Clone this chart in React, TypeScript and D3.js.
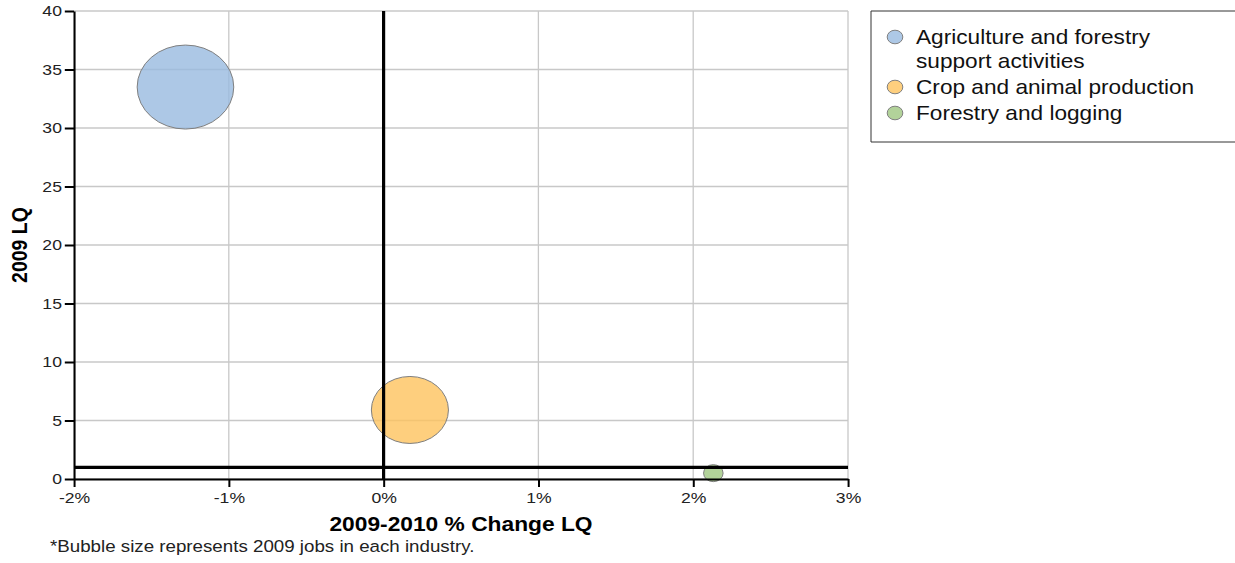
import React, { useEffect, useRef } from 'react';
import * as d3 from 'd3';

// Data
const INDUSTRIES = [
  'Agriculture and forestry support activities',
  'Crop and animal production',
  'Forestry and logging',
];
const LEGEND_LINES = [
  ['Agriculture and forestry', 'support activities'],
  ['Crop and animal production'],
  ['Forestry and logging'],
];
const CHANGE_LQ = [-1.28, 0.17, 2.13]; // 2009-2010 % change in LQ
const LQ_2009 = [33.5, 5.9, 0.5];
const JOBS_2009 = [1760, 1120, 72];
const COLORS = ['#98bae0', '#fec35e', '#9fc781'];

const X_TICKS = [-2, -1, 0, 1, 2, 3];
const Y_TICKS = [0, 5, 10, 15, 20, 25, 30, 35, 40];

const FONT = '"Liberation Sans", Arial, Helvetica, sans-serif';

// the original picture is stretched horizontally
const SX = 1.15;
const W = 1235 / SX;
const H = 563;

const App: React.FC = () => {
  const svgRef = useRef<SVGSVGElement | null>(null);

  useEffect(() => {
    if (!svgRef.current) return;
    const svg = d3.select(svgRef.current);
    svg.selectAll('*').remove();

    const left = 74 / SX;
    const right = 848 / SX;
    const top = 11;
    const bottom = 479;

    const x = d3.scaleLinear().domain([-2, 3]).range([left, right]);
    const y = d3.scaleLinear().domain([0, 40]).range([bottom, top]);
    const r = d3.scaleSqrt().domain([0, d3.max(JOBS_2009) as number]).range([0, 42]);

    const g = svg.append('g');

    // grid
    g.selectAll('line.vgrid')
      .data(X_TICKS)
      .enter()
      .append('line')
      .attr('x1', (d) => x(d))
      .attr('x2', (d) => x(d))
      .attr('y1', top)
      .attr('y2', bottom)
      .attr('stroke', '#c8c8c8')
      .attr('stroke-width', 1.3)
      .attr('vector-effect', 'non-scaling-stroke');

    g.selectAll('line.hgrid')
      .data(Y_TICKS)
      .enter()
      .append('line')
      .attr('x1', left)
      .attr('x2', right)
      .attr('y1', (d) => y(d))
      .attr('y2', (d) => y(d))
      .attr('stroke', '#c8c8c8')
      .attr('stroke-width', 1.3)
      .attr('vector-effect', 'non-scaling-stroke');

    // bubbles
    g.selectAll('circle.bubble')
      .data(INDUSTRIES)
      .enter()
      .append('circle')
      .attr('cx', (d, i) => x(CHANGE_LQ[i]))
      .attr('cy', (d, i) => y(LQ_2009[i]))
      .attr('r', (d, i) => r(JOBS_2009[i]))
      .attr('fill', (d, i) => COLORS[i])
      .attr('fill-opacity', 0.8)
      .attr('stroke', '#7f7f7f')
      .attr('stroke-width', 1)
      .attr('vector-effect', 'non-scaling-stroke');

    // reference lines at 0% change and LQ = 1
    g.append('line')
      .attr('x1', x(0)).attr('x2', x(0))
      .attr('y1', top).attr('y2', bottom)
      .attr('stroke', '#000')
      .attr('stroke-width', 3.2)
      .attr('vector-effect', 'non-scaling-stroke');
    g.append('line')
      .attr('x1', left).attr('x2', right)
      .attr('y1', y(1)).attr('y2', y(1))
      .attr('stroke', '#000')
      .attr('stroke-width', 3.2)
      .attr('vector-effect', 'non-scaling-stroke');

    // axes
    const xAxis = g.append('g')
      .attr('transform', `translate(0, ${bottom})`)
      .call(
        d3.axisBottom(x)
          .tickValues(X_TICKS)
          .tickSize(8)
          .tickSizeOuter(0)
          .tickPadding(5)
          .tickFormat((d) => `${d}%`)
      );
    const yAxis = g.append('g')
      .attr('transform', `translate(${left}, 0)`)
      .call(
        d3.axisLeft(y)
          .tickValues(Y_TICKS)
          .tickSize(8)
          .tickSizeOuter(0)
          .tickPadding(2.5)
      );

    [xAxis, yAxis].forEach((a) => {
      a.select('.domain')
        .attr('stroke', '#000')
        .attr('stroke-width', 2)
        .attr('vector-effect', 'non-scaling-stroke');
      a.selectAll('.tick line')
        .attr('stroke', '#000')
        .attr('stroke-width', 2)
        .attr('vector-effect', 'non-scaling-stroke');
      a.selectAll('.tick text')
        .attr('fill', '#222')
        .style('font-family', FONT)
        .style('font-size', '15.3px');
    });

    // axis titles
    svg.append('text')
      .attr('x', (left + right) / 2)
      .attr('y', 531)
      .attr('text-anchor', 'middle')
      .style('font-family', FONT)
      .style('font-size', '19.8px')
      .style('font-weight', 'bold')
      .attr('fill', '#000')
      .text('2009-2010 % Change LQ');

    svg.append('text')
      .attr('transform', `translate(${27 / SX}, ${(top + bottom) / 2}) rotate(-90)`)
      .attr('text-anchor', 'middle')
      .style('font-family', FONT)
      .style('font-size', '19.5px')
      .style('font-weight', 'bold')
      .attr('fill', '#000')
      .text('2009 LQ');

    svg.append('text')
      .attr('x', 50 / SX)
      .attr('y', 552)
      .style('font-family', FONT)
      .style('font-size', '16.3px')
      .attr('fill', '#222')
      .text('*Bubble size represents 2009 jobs in each industry.');

    // legend
    const legend = svg.append('g');
    legend.append('rect')
      .attr('x', 871 / SX)
      .attr('y', 11)
      .attr('width', W)
      .attr('height', 131)
      .attr('fill', '#fff')
      .attr('stroke', '#333')
      .attr('stroke-width', 1)
      .attr('vector-effect', 'non-scaling-stroke');

    let line = 0;
    LEGEND_LINES.forEach((lines, i) => {
      const base = 44 + line * 24 + i * 2;
      legend.append('circle')
        .attr('cx', 895 / SX)
        .attr('cy', base - 7)
        .attr('r', 6.8)
        .attr('fill', COLORS[i])
        .attr('fill-opacity', 0.8)
        .attr('stroke', '#7f7f7f')
        .attr('stroke-width', 1)
        .attr('vector-effect', 'non-scaling-stroke');
      lines.forEach((t, j) => {
        legend.append('text')
          .attr('x', 916 / SX)
          .attr('y', base + j * 24)
          .style('font-family', FONT)
          .style('font-size', '19.7px')
          .attr('fill', '#111')
          .text(t);
      });
      line += lines.length;
    });
  }, []);

  return (
    <div style={{ position: 'absolute', left: 0, top: 0 }}>
      <svg
        ref={svgRef}
        width={1235}
        height={H}
        viewBox={`0 0 ${W} ${H}`}
        preserveAspectRatio="none"
        style={{ display: 'block', background: '#fff' }}
      />
    </div>
  );
};

export default App;
